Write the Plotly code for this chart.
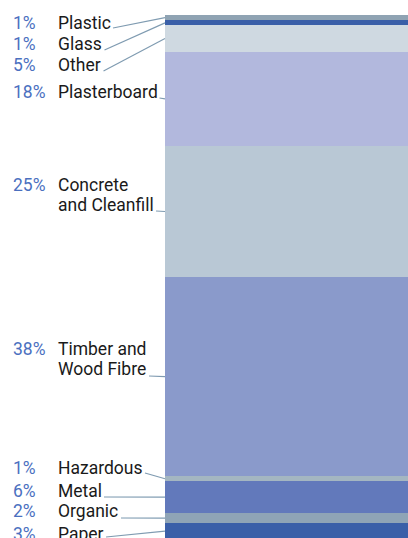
import plotly.graph_objects as go

# ---- data (bottom to top) ----
categories = ["Paper", "Organic", "Metal", "Hazardous", "Timber and Wood Fibre",
              "Concrete and Cleanfill", "Plasterboard", "Other", "Glass", "Plastic"]
label_lines = [["Paper"], ["Organic"], ["Metal"], ["Hazardous"], ["Timber and", "Wood Fibre"],
               ["Concrete", "and Cleanfill"], ["Plasterboard"], ["Other"], ["Glass"], ["Plastic"]]
percent = [3, 2, 6, 1, 38, 25, 18, 5, 1, 1]

# ---- styles / layout positions ----
colors = ["#3a5fa8", "#8fa4b6", "#6279bb", "#a4b6c1", "#8a9acb",
          "#b9c8d5", "#b2b8dd", "#cfd9e1", "#3a5fa8", "#8fa3b3"]
W, H = 408, 538
TOP = 15
PX_PER_UNIT = 5.24
BAR_LEFT_PX = 165
# label baselines (px from top) for each row line
label_baselines = [[540], [517], [497], [474], [355, 375.5], [191, 211], [98], [71], [50], [29]]
# leader line start (px)
leader_start = [(106, 537), (121, 518), (104, 497), (145, 473), (149, 376),
                (156, 211), (159.5, 98), (103.5, 71), (104.5, 50), (113, 28)]

FONT = "Roboto, Liberation Sans, sans-serif"
FS = 17.5
PCT_COLOR = "#4b70bf"
TXT_COLOR = "#1a1a1a"
LINE_COLOR = "#7f9bb1"


def px_to_y(py):
    return (TOP + 100 * PX_PER_UNIT - py) / PX_PER_UNIT


def px_to_x(px):
    return px / W


fig = go.Figure()
for cat, val, col in zip(categories, percent, colors):
    fig.add_trace(go.Bar(x=["waste"], y=[val], name=cat, marker=dict(color=col, line=dict(width=0)),
                         hoverinfo="name+y"))

annotations = []
shapes = []
cum = 0
for i, val in enumerate(percent):
    center = cum + val / 2
    cum += val
    lines = label_lines[i]
    bls = label_baselines[i]
    annotations.append(dict(x=px_to_x(10.5), y=px_to_y(bls[0] - 6.5), xref="paper", yref="y",
                            text=f"{val}%", showarrow=False, xanchor="left", yanchor="middle",
                            font=dict(family=FONT, size=FS, color=PCT_COLOR)))
    for ln, bl in zip(lines, bls):
        annotations.append(dict(x=px_to_x(56), y=px_to_y(bl - 6.5), xref="paper", yref="y",
                                text=ln, showarrow=False, xanchor="left", yanchor="middle",
                                font=dict(family=FONT, size=FS, color=TXT_COLOR)))
    sx, sy = leader_start[i]
    shapes.append(dict(type="line", xref="paper", yref="y",
                       x0=px_to_x(sx), y0=px_to_y(sy), x1=px_to_x(BAR_LEFT_PX), y1=center,
                       line=dict(color=LINE_COLOR, width=1.2)))

plot_h = H - TOP
fig.update_layout(
    width=W, height=H,
    margin=dict(l=0, r=0, t=TOP, b=0, pad=0),
    barmode="stack", bargap=0,
    showlegend=False,
    plot_bgcolor="white", paper_bgcolor="white",
    xaxis=dict(domain=[BAR_LEFT_PX / W, 1], visible=False, showgrid=False),
    yaxis=dict(range=[100 - plot_h / PX_PER_UNIT, 100], visible=False, showgrid=False, zeroline=False),
    annotations=annotations,
    shapes=shapes,
)

fig.write_html("out.html", config={"displayModeBar": False},
               post_script="document.body.style.margin='0';document.body.style.overflow='hidden';")
